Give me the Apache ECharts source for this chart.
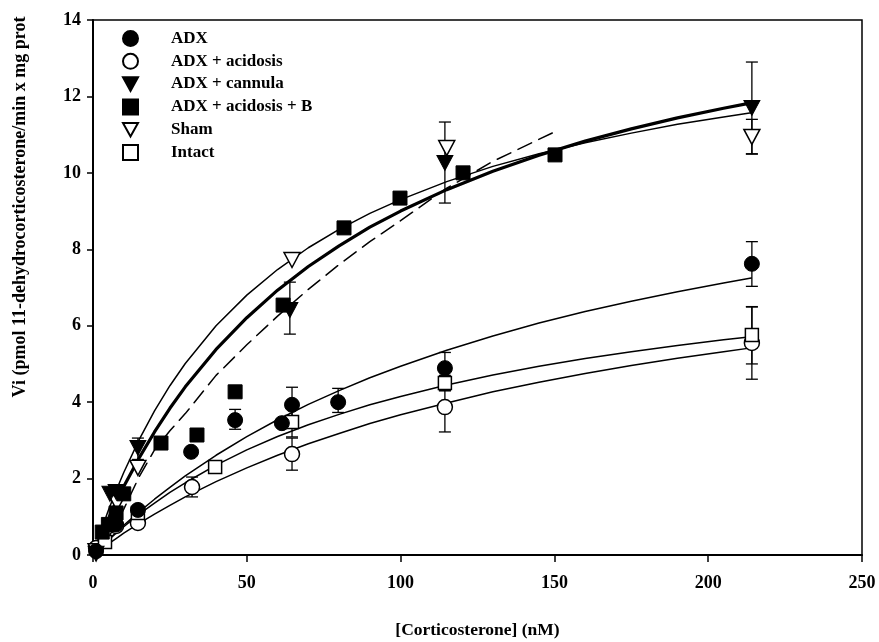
<!DOCTYPE html>
<html><head><meta charset="utf-8">
<script src="https://cdn.jsdelivr.net/npm/echarts@6/dist/echarts.min.js"></script>
<style>html,body{margin:0;padding:0;background:#fff}#c{width:879px;height:642px}</style>
</head><body><div id="c"></div>
<script>
// ---- data ----
const seriesNames = ['ADX', 'ADX + acidosis', 'ADX + cannula', 'ADX + acidosis + B', 'Sham', 'Intact'];
const adxPts      = [[1,0.1],[7.5,0.8],[14.6,1.18],[31.9,2.70],[46.2,3.53],[61.4,3.45],[64.7,3.93],[79.7,4.0],[114.4,4.89],[214.2,7.62]];
const acidPts     = [[1,0.18],[7.5,0.76],[14.6,0.84],[32.2,1.78],[64.7,2.64],[114.4,3.87],[214.2,5.55]];
const cannulaPts  = [[1,0.03],[5.5,1.6],[7.5,1.65],[14.6,2.8],[64,6.41],[114.4,10.26],[214.2,11.7]];
const acidBPts    = [[3,0.6],[5,0.8],[7.5,1.1],[10,1.6],[22.1,2.93],[33.8,3.14],[46.2,4.27],[61.8,6.54],[81.6,8.56],[99.8,9.34],[120.3,10.0],[150.2,10.47]];
const shamPts     = [[1,0.1],[7.8,1.36],[14.6,2.28],[64.7,7.72],[115,10.65],[214.2,10.94]];
const intactPts   = [[3.9,0.34],[14.6,1.1],[39.7,2.3],[64.7,3.48],[114.4,4.5],[214.2,5.76]];

// error bars [x, low, high]
const adxErr     = [[46.2,3.29,3.81],[64.7,3.47,4.39],[79.7,3.73,4.36],[114.4,4.5,5.3],[214.2,7.03,8.2]];
const acidErr    = [[32.2,1.52,2.04],[64.7,2.22,3.06],[114.4,3.22,4.3],[214.2,4.6,6.5]];
const cannulaErr = [[14.6,2.5,3.06],[64,5.78,7.14],[114.4,9.21,11.33],[214.2,10.5,12.9]];
const shamErr    = [[214.2,10.49,11.4]];
const intactErr  = [[64.7,3.09,3.87],[114.4,4.3,4.7],[214.2,5.0,6.49]];

// fitted curves
const curveX     = [0,2.5,5,7.5,10,15,20,25,30,40,50,60,70,80,90,100,115,130,145,160,175,190,205,214];
const fitCannula = [0,0.49,0.95,1.38,1.79,2.54,3.22,3.84,4.40,5.38,6.21,6.93,7.55,8.09,8.58,9.00,9.56,10.04,10.46,10.83,11.15,11.44,11.69,11.83];
const fitSham    = [0,0.61,1.17,1.68,2.16,3.02,3.77,4.43,5.01,6.00,6.80,7.47,8.04,8.52,8.94,9.30,9.77,10.17,10.50,10.79,11.04,11.27,11.46,11.57];
const fitAdx     = [0,0.20,0.40,0.59,0.78,1.13,1.46,1.77,2.07,2.61,3.10,3.54,3.94,4.30,4.64,4.94,5.36,5.73,6.07,6.37,6.64,6.89,7.12,7.25];
const fitIntact  = [0,0.20,0.39,0.57,0.74,1.07,1.36,1.64,1.89,2.35,2.75,3.10,3.41,3.68,3.93,4.15,4.45,4.71,4.94,5.14,5.32,5.48,5.63,5.71];
const fitAcid    = [0,0.15,0.29,0.43,0.57,0.83,1.07,1.30,1.52,1.92,2.28,2.61,2.91,3.18,3.44,3.67,3.98,4.27,4.52,4.75,4.96,5.15,5.32,5.42];
const dashX      = [0,5,10,15,20,25,30,40,50,60,70,80,90,100,115,130,150];
const fitAcidB   = [0,0.45,1.2,2.05,2.75,3.25,3.7,4.7,5.5,6.25,6.95,7.6,8.2,8.75,9.6,10.3,11.07];

const xTicks = [0,50,100,150,200,250];
const yTicks = [0,2,4,6,8,10,12,14];
const yTitle = 'Vi (pmol 11-dehydrocorticosterone/min x mg prot';
const xTitle = '[Corticosterone] (nM)';

// ---- chart ----
const FONT = 'Liberation Serif';
const zip = (xs, ys) => xs.map((x,i)=>[x, ys[i]]);
const downTri = 'path://M0,0 L10,0 L5,9 Z';

function errSeries(data){
  return {
    type:'custom', z:3, silent:true,
    renderItem:(params, api)=>{
      const x = api.value(0), lo = api.value(1), hi = api.value(2);
      const pLo = api.coord([x, lo]), pHi = api.coord([x, hi]);
      const w = 6;
      const st = {stroke:'#000', lineWidth:1.3};
      return {type:'group', children:[
        {type:'line', shape:{x1:pLo[0],y1:pLo[1],x2:pHi[0],y2:pHi[1]}, style:st},
        {type:'line', shape:{x1:pLo[0]-w,y1:pLo[1],x2:pLo[0]+w,y2:pLo[1]}, style:st},
        {type:'line', shape:{x1:pHi[0]-w,y1:pHi[1],x2:pHi[0]+w,y2:pHi[1]}, style:st}
      ]};
    },
    data
  };
}
function lineSeries(data, width, dashed){
  return {type:'line', data, smooth:false, showSymbol:false, silent:true, z:2,
    lineStyle:{color:'#000', width, type: dashed ? [15,8] : 'solid', cap:'round', join:'round'}};
}
const filled = {color:'#000', borderColor:'#000', borderWidth:1, opacity:1};
const open   = {color:'#fff', borderColor:'#000', borderWidth:1.5, opacity:1};

const option = {
  animation:false,
  backgroundColor:'#fff',
  grid:{left:93, right:17, top:20, bottom:87, containLabel:false, outerBoundsMode:'none',
        show:true, borderColor:'#000', borderWidth:1.5},
  xAxis:{type:'value', min:0, max:250, interval:50,
    axisLine:{show:true, onZero:false, lineStyle:{color:'#000', width:2}},
    axisTick:{show:true, length:7, lineStyle:{color:'#000', width:1.5}},
    splitLine:{show:false},
    axisLabel:{color:'#000', fontFamily:FONT, fontWeight:'bold', fontSize:18, margin:19},
    name:xTitle, nameLocation:'middle', nameGap:66,
    nameTextStyle:{color:'#000', fontFamily:FONT, fontWeight:'bold', fontSize:17.5}},
  yAxis:{type:'value', min:0, max:14, interval:2,
    axisLine:{show:true, onZero:false, lineStyle:{color:'#000', width:2}},
    axisTick:{show:true, length:6, lineStyle:{color:'#000', width:1.5}},
    splitLine:{show:false},
    axisLabel:{color:'#000', fontFamily:FONT, fontWeight:'bold', fontSize:18, margin:12}},
  graphic:[{type:'text', x:20, y:207, rotation:Math.PI/2, silent:true,
    style:{text:yTitle, fill:'#000', font:'bold 18px "Liberation Serif"', align:'center', verticalAlign:'middle'}}],
  legend:{show:true, orient:'vertical', left:117, top:25, itemGap:5.8, itemWidth:15, itemHeight:15,
    data:seriesNames, selectedMode:false,
    textStyle:{color:'#000', fontFamily:FONT, fontWeight:'bold', fontSize:17, padding:[0,0,0,28]}},
  series:[
    lineSeries(zip(curveX, fitCannula), 3.2, false),
    lineSeries(zip(curveX, fitSham), 1.5, false),
    lineSeries(zip(curveX, fitAdx), 1.5, false),
    lineSeries(zip(curveX, fitIntact), 1.5, false),
    lineSeries(zip(curveX, fitAcid), 1.5, false),
    lineSeries(zip(dashX, fitAcidB), 1.5, true),
    errSeries(adxErr), errSeries(acidErr), errSeries(cannulaErr), errSeries(shamErr), errSeries(intactErr),
    {name:seriesNames[0], type:'scatter', data:adxPts, symbol:'circle', symbolSize:15, itemStyle:filled, z:5},
    {name:seriesNames[1], type:'scatter', data:acidPts, symbol:'circle', symbolSize:15, itemStyle:open, z:4},
    {name:seriesNames[2], type:'scatter', data:cannulaPts, symbol:downTri, symbolSize:[16,15], itemStyle:filled, z:5},
    {name:seriesNames[3], type:'scatter', data:acidBPts, symbol:'rect', symbolSize:14, itemStyle:filled, z:5},
    {name:seriesNames[4], type:'scatter', data:shamPts, symbol:downTri, symbolSize:[16,15], itemStyle:open, z:4},
    {name:seriesNames[5], type:'scatter', data:intactPts, symbol:'rect', symbolSize:13, itemStyle:open, z:4}
  ]
};
const chart = echarts.init(document.getElementById('c'), null, {renderer:'canvas'});
chart.setOption(option);
</script></body></html>
